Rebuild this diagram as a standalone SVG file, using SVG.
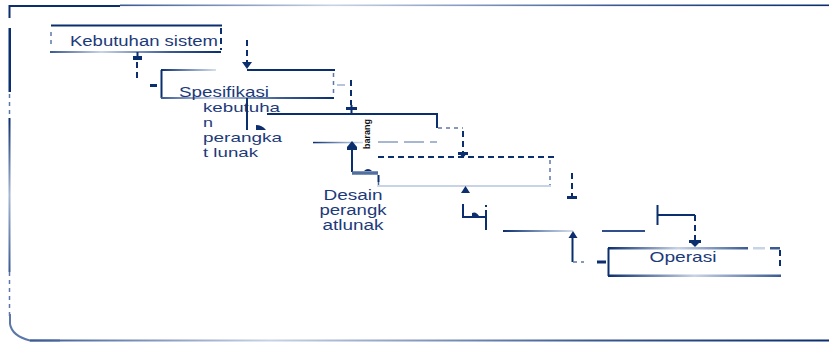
<svg xmlns="http://www.w3.org/2000/svg" width="829" height="344" viewBox="0 0 829 344">
<defs>
<linearGradient id="fadeH" x1="0" y1="0" x2="1" y2="0"><stop offset="0" stop-color="#0b2e6e"/><stop offset="0.5" stop-color="#c8d3e6"/><stop offset="1" stop-color="#3a5a92"/></linearGradient>
<linearGradient id="fadeH2" x1="0" y1="0" x2="1" y2="0"><stop offset="0" stop-color="#0b2e6e"/><stop offset="0.6" stop-color="#8aa0c4"/><stop offset="1" stop-color="#d6deeb"/></linearGradient>
<linearGradient id="fadeH3" x1="0" y1="0" x2="1" y2="0"><stop offset="0" stop-color="#3a5a92"/><stop offset="0.3" stop-color="#c8d3e6"/><stop offset="0.7" stop-color="#3a5a92"/><stop offset="1" stop-color="#0b2e6e"/></linearGradient>
<linearGradient id="fadeV" x1="0" y1="0" x2="0" y2="1"><stop offset="0" stop-color="#0b2e6e"/><stop offset="0.5" stop-color="#a8b8d4"/><stop offset="1" stop-color="#3a5a92"/></linearGradient>
</defs>
<style>
.ln{stroke:#0b2e6e;stroke-width:2;fill:none}
.lt{stroke:#4a679c;stroke-width:1.5;fill:none}
.pl{stroke:#b7c5dc;stroke-width:2;fill:none}
.ds{stroke:#0b2e6e;stroke-width:2;fill:none;stroke-dasharray:6 4}
.dl{stroke:#5d78a8;stroke-width:1.5;fill:none;stroke-dasharray:4 4}
.ah{fill:#0b2e6e}
.tx{font-family:"Liberation Sans",Arial,sans-serif;fill:#1d3a7a}
</style>
<g id="frame">
<path class="ln" d="M9.5,18 V6 H120" stroke-width="1.5"/>
<rect x="120" y="4.5" width="709" height="1.6" fill="url(#fadeH3)"/>
<rect x="8.5" y="28" width="2.5" height="64" fill="#0b2e6e"/>
<path class="dl" d="M9.5,94 V118"/>
<rect x="8.5" y="118" width="2" height="154" fill="url(#fadeV)"/>
<path class="dl" d="M9.5,272 V318"/>
<path d="M10,314 V324 Q12,336 30,340.5 H60" stroke="#5d78a8" stroke-width="2" fill="none"/>
<rect x="30" y="339.5" width="799" height="2" fill="url(#fadeH3)"/>
</g>
<g id="node-kebutuhan-sistem">
<path class="ln" d="M51,25.5 H222"/>
<rect x="50" y="51" width="171" height="2" fill="url(#fadeH3)"/>
<path class="dl" d="M51,32 V48"/>
<path class="ds" d="M221,28 V50" stroke-width="2.5"/>
<text class="tx" x="70" y="45.5" font-size="14" textLength="148" lengthAdjust="spacingAndGlyphs">Kebutuhan sistem</text>
</g>
<g id="node-spesifikasi">
<rect x="161" y="69" width="55" height="2" fill="url(#fadeH2)"/>
<path class="ln" d="M247,70 H335"/>
<path class="ln" d="M161.5,70 V98"/>
<path class="dl" d="M333.5,73 V96"/>
<rect x="161" y="97" width="173" height="2" fill="url(#fadeH3)"/>
<text class="tx" x="179" y="96.5" font-size="15" textLength="90" lengthAdjust="spacingAndGlyphs">Spesifikasi</text>
<text class="tx" x="203" y="111.5" font-size="13.5" textLength="77" lengthAdjust="spacingAndGlyphs">kebutuha</text>
<text class="tx" x="203" y="127" font-size="13.5" textLength="10" lengthAdjust="spacingAndGlyphs">n</text>
<text class="tx" x="203" y="141.5" font-size="13.5" textLength="79" lengthAdjust="spacingAndGlyphs">perangka</text>
<text class="tx" x="203" y="157" font-size="13.5" textLength="55" lengthAdjust="spacingAndGlyphs">t lunak</text>
</g>
<g id="node-desain-sistem">
<path class="ln" d="M267,114 H438" stroke-width="2.5"/>
<path class="ln" d="M437,114 V128"/>
<rect x="313" y="141.8" width="50" height="1.5" fill="url(#fadeH2)"/>
<path d="M378,142 H437" stroke="#8aa0c4" stroke-width="1.5" fill="none" stroke-dasharray="20 6"/>
<text x="370" y="149" font-size="9" font-weight="bold" font-family="'Liberation Sans',Arial,sans-serif" fill="#111" transform="rotate(-90 370 149)">barang</text>
</g>
<g id="node-desain-perangkat-lunak">
<path class="ds" d="M378,157 H556" stroke-dasharray="10 6"/>
<path class="ln" d="M378.5,175 V182"/>
<path class="lt" d="M378.5,182 V187"/>
<path class="dl" d="M550,160 V186"/>
<path d="M378,186 H551" stroke="#c8d3e6" stroke-width="2" fill="none"/>
<text class="tx" x="353" y="200" font-size="14" text-anchor="middle" textLength="59" lengthAdjust="spacingAndGlyphs">Desain</text>
<text class="tx" x="353" y="215" font-size="14" text-anchor="middle" textLength="67" lengthAdjust="spacingAndGlyphs">perangk</text>
<text class="tx" x="353" y="230" font-size="14" text-anchor="middle" textLength="61" lengthAdjust="spacingAndGlyphs">atlunak</text>
</g>
<g id="node-implementasi">
<rect x="503" y="230" width="70" height="2" fill="url(#fadeH2)"/>
<path d="M602,231 H645" stroke="#2e4f8a" stroke-width="2" fill="none"/>
</g>
<g id="node-operasi">
<rect x="608" y="247" width="140" height="2.5" fill="url(#fadeH)"/>
<rect x="753" y="247" width="12" height="2.5" fill="#c8d3e6"/>
<rect x="770" y="247" width="10" height="2.5" fill="#3a5a92"/>
<path class="ln" d="M608.5,248 V276"/>
<path class="ds" d="M780,250 V270"/>
<rect x="608" y="274.5" width="173" height="2.5" fill="url(#fadeH)"/>
<text class="tx" x="683" y="262" font-size="15" text-anchor="middle" textLength="67" lengthAdjust="spacingAndGlyphs">Operasi</text>
</g>
<g id="connectors">
<rect class="ah" x="133" y="56" width="9" height="4"/>
<path class="ln" d="M137.5,52 V60"/>
<path class="ds" d="M137,62 V82" stroke-dasharray="5 4"/>
<rect class="ah" x="150" y="84" width="7" height="3"/>
<path class="ds" d="M247,40 V62" stroke-dasharray="6 3"/>
<path class="ah" d="M242,62 H252 L247,69 Z"/>
<path class="ln" d="M247,98 V130"/>
<path class="ah" d="M256,125 Q262,125 266,130 H256 Z"/>
<path class="pl" d="M337,85 H345" stroke-width="1"/>
<path class="ds" d="M351,80 V105" stroke-dasharray="6 3"/>
<rect class="ah" x="346" y="107" width="11" height="3"/>
<path class="ln" d="M351.5,105 V114"/>
<path class="ah" d="M347,147 L352,141 L357,147 V150 H347 Z"/>
<path class="ln" d="M352,148 V172"/>
<path d="M352,173 H378" stroke="#51709f" stroke-width="3.5" fill="none"/>
<path class="ah" d="M364,171 Q368,167 372,171 Z"/>
<path class="dl" d="M438,128 H463"/>
<path class="ds" d="M463,131 V154" stroke-dasharray="5 3"/>
<path class="ah" d="M458,152 H468 L463,158 Z"/>
<rect class="ah" x="458" y="152" width="10" height="3"/>
<path class="ah" d="M461,193 L465.5,186 L470,193 Z"/>
<path class="ln" d="M463,204 V217 H486"/>
<path class="ah" d="M472,213 Q476,211 479,216 H472 Z"/>
<path class="ln" d="M486,205 V230" stroke-dasharray="2 3 20"/>
<path class="ds" d="M572,173 V202" stroke-dasharray="3 3 20"/>
<rect class="ah" x="567" y="196" width="10" height="3"/>
<path class="ah" d="M568.5,238 L573,231 L577.5,238 Z"/>
<path class="ln" d="M572.5,238 V262"/>
<path class="dl" d="M573,262 H584"/>
<path d="M597,262 H606" stroke="#0b2e6e" stroke-width="3" fill="none"/>
<path class="ln" d="M657.5,205 V225"/>
<path class="ln" d="M657,215 H695"/>
<path class="ds" d="M695,215 V241" stroke-dasharray="6 3"/>
<rect class="ah" x="689" y="240" width="12" height="3"/>
<path class="ah" d="M691,243 H699 L695,247 Z"/>
</g>
</svg>
